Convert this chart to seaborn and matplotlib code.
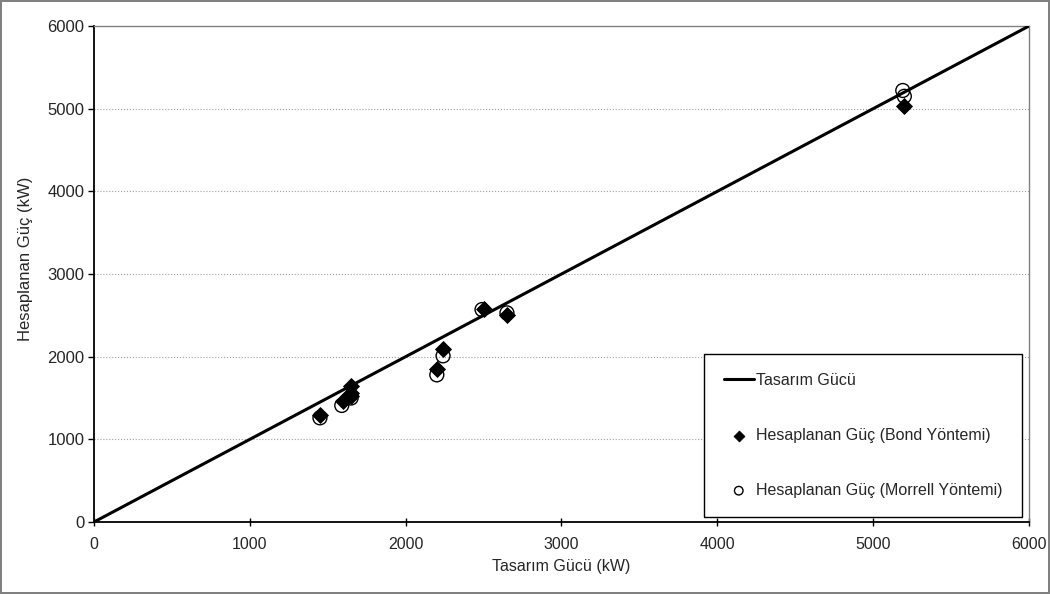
import seaborn as sns
import matplotlib.pyplot as plt

# design line (y = x)
design_x = [0, 6000]
design_y = [0, 6000]

# Bond method
bond_x = [1450, 1600, 1650, 1650, 1650, 2200, 2240, 2500, 2650, 5200]
bond_y = [1290, 1460, 1520, 1560, 1650, 1850, 2090, 2580, 2510, 5030]

# Morrell method
morrell_x = [1450, 1590, 1650, 2200, 2240, 2490, 2650, 5190, 5200]
morrell_y = [1260, 1410, 1500, 1780, 2010, 2570, 2530, 5220, 5150]

ticks = [0, 1000, 2000, 3000, 4000, 5000, 6000]

sns.set_style("white")
plt.rcParams['font.family'] = ['Liberation Sans', 'DejaVu Sans']

fig = plt.figure(figsize=(10.5, 5.94), dpi=100)
fig.patch.set_edgecolor('#808080')
fig.patch.set_linewidth(1.5)
ax = fig.add_axes([0.0895, 0.1212, 0.8905, 0.835])

for y in ticks[1:-1]:
    ax.axhline(y, color='#a0a0a0', linestyle=':', linewidth=0.8, zorder=0)

sns.lineplot(x=design_x, y=design_y, ax=ax, color='black', linewidth=2.2,
             label='Tasarım Gücü', zorder=3)
sns.scatterplot(x=bond_x, y=bond_y, ax=ax, marker='D', s=65, color='black',
                edgecolor='black', label='Hesaplanan Güç (Bond Yöntemi)', zorder=4)
sns.scatterplot(x=morrell_x, y=morrell_y, ax=ax, marker='o', s=100,
                facecolor='none', edgecolor='black', linewidth=1.0,
                label='Hesaplanan Güç (Morrell Yöntemi)', zorder=5)

ax.set_xlim(0, 6000)
ax.set_ylim(0, 6000)
ax.set_xticks(ticks)
ax.set_yticks(ticks)
ax.tick_params(axis='y', direction='out', length=4, width=1, color='black',
               labelsize=12, pad=3)
ax.tick_params(axis='x', direction='inout', length=6, width=1, color='black',
               labelsize=11.5, pad=8)
ax.tick_params(left=True, bottom=True)

for side in ['left', 'bottom']:
    ax.spines[side].set_color('black')
    ax.spines[side].set_linewidth(1.3)
for side in ['top', 'right']:
    ax.spines[side].set_visible(True)
    ax.spines[side].set_color('#808080')
    ax.spines[side].set_linewidth(1.0)

ax.set_xlabel('Tasarım Gücü (kW)', fontsize=11.5, labelpad=5)
ax.set_ylabel('Hesaplanan Güç (kW)', fontsize=12, labelpad=8)
ax.yaxis.set_label_coords(-0.065, 0.53)

leg = ax.legend(loc='lower right', bbox_to_anchor=(0.9925, 0.01), fontsize=11.5,
                frameon=True, fancybox=False, edgecolor='black',
                labelspacing=2.5, borderpad=1.2, handlelength=1.9,
                handletextpad=0.15, borderaxespad=0)
leg.get_frame().set_linewidth(1.0)
leg.get_frame().set_alpha(1)
handles = leg.legend_handles
handles[1].set_sizes([30])
handles[2].set_sizes([38])

fig.savefig('out.png', dpi=100)
